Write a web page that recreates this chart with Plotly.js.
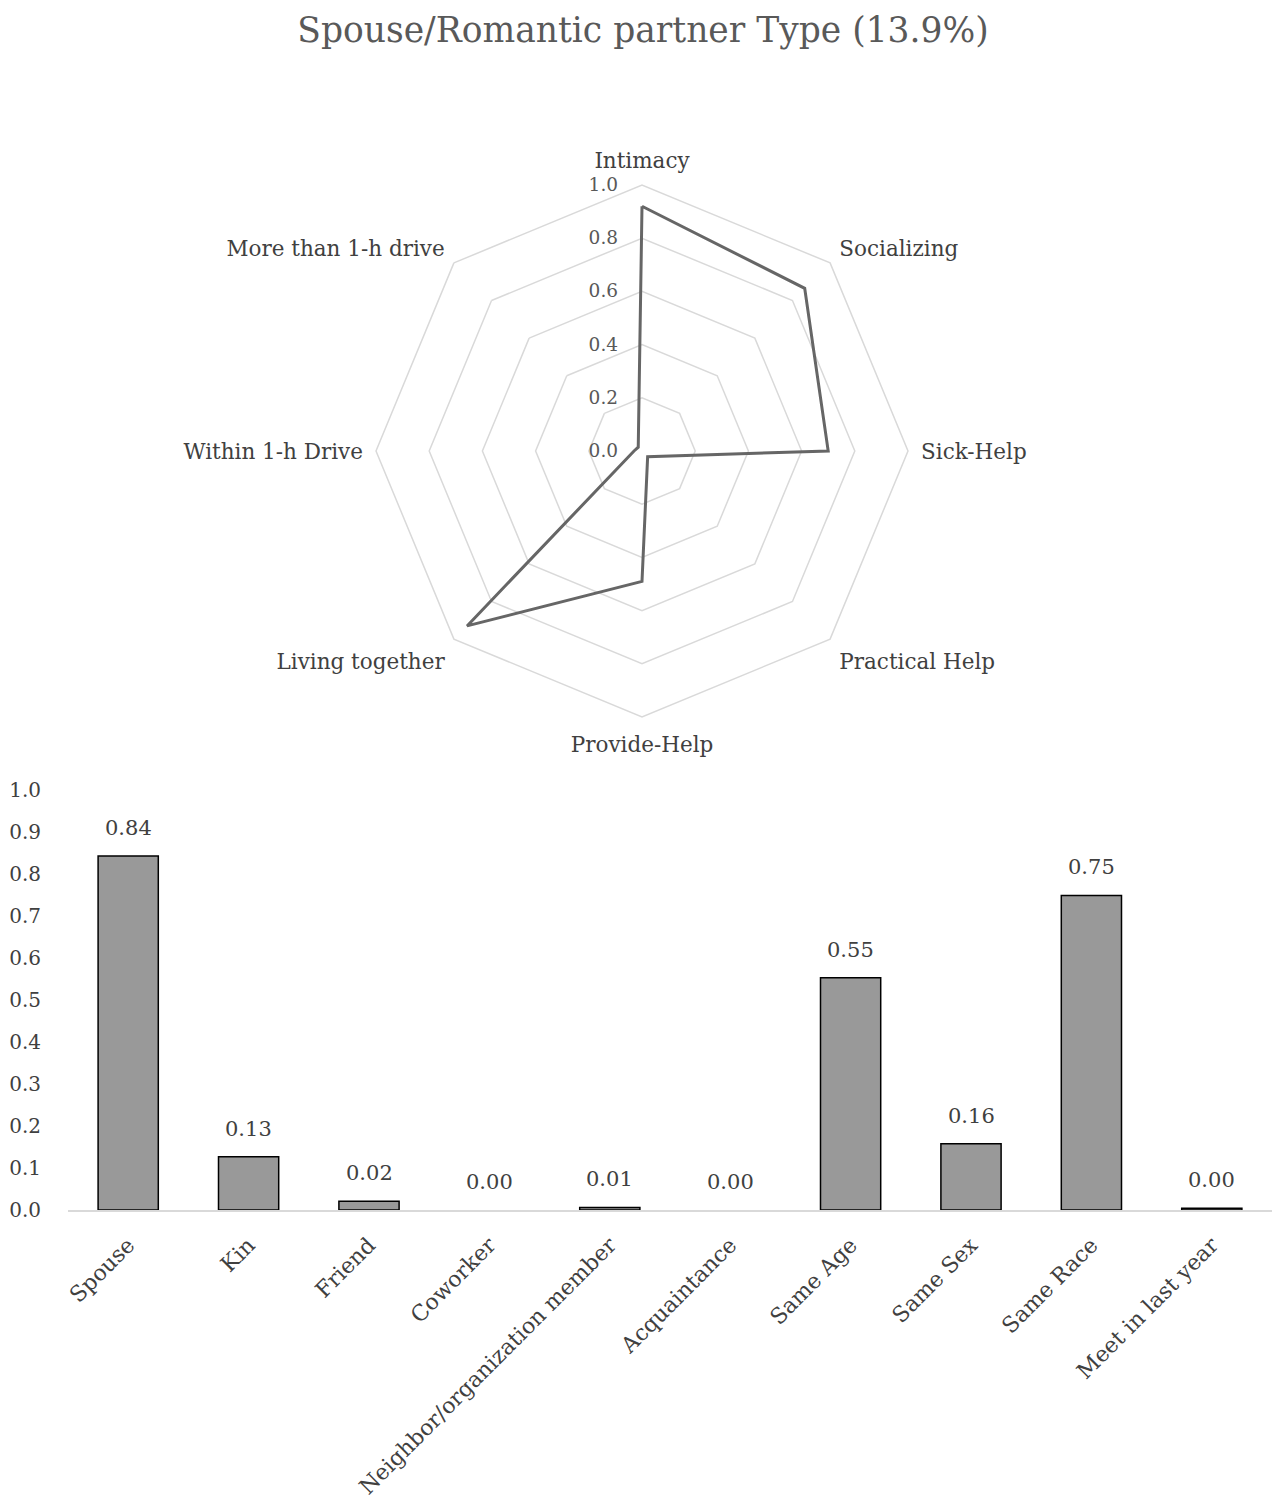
<!DOCTYPE html>
<html>
<head>
<meta charset="utf-8">
<script src="https://cdn.plot.ly/plotly-3.0.1.min.js"></script>
<style>html,body{margin:0;padding:0;background:#fff;}#chart{width:1279px;height:1509px;}</style>
</head>
<body>
<div id="chart"></div>
<script>
// Radar data
var radarAxes = ["Intimacy", "Socializing", "Sick-Help", "Practical Help", "Provide-Help", "Living together", "Within 1-h Drive", "More than 1-h drive"];
var radarValues = [0.92, 0.865, 0.70, 0.03, 0.49, 0.93, 0.03, 0.02];
var radialTicks = [0, 0.2, 0.4, 0.6, 0.8, 1.0];

// Bar data
var barCategories = ["Spouse", "Kin", "Friend", "Coworker", "Neighbor/organization member", "Acquaintance", "Same Age", "Same Sex", "Same Race", "Meet in last year"];
var barValues = [0.843, 0.127, 0.021, 0.0, 0.006, 0.0, 0.553, 0.158, 0.749, 0.004];
var barTicks = [0, 0.1, 0.2, 0.3, 0.4, 0.5, 0.6, 0.7, 0.8, 0.9, 1.0];

var serif = "DejaVu Serif, Liberation Serif, serif";
var textColor = "#404040";
var gridColor = "#d9d9d9";

var radarTrace = {
  type: "scatterpolar",
  r: radarValues.concat([radarValues[0]]),
  theta: radarAxes.concat([radarAxes[0]]),
  mode: "lines",
  line: {color: "#666666", width: 3},
  subplot: "polar",
  hoverinfo: "skip",
  showlegend: false
};

var barTrace = {
  type: "bar",
  x: barCategories,
  y: barValues,
  xaxis: "x",
  yaxis: "y",
  marker: {
    color: "#999999",
    line: {color: "#000000", width: barValues.map(function (v) { return v > 0 ? 1.5 : 0; })}
  },
  hoverinfo: "skip",
  showlegend: false
};

var annotations = barCategories.map(function (c, i) {
  return {
    x: c, y: barValues[i], xref: "x", yref: "y",
    text: barValues[i].toFixed(2),
    showarrow: false, yanchor: "bottom", yshift: 14,
    font: {family: serif, size: 21, color: textColor}
  };
});

var W = 1279, H = 1509;
var cx = 642, cy = 451, R = 266;

var layout = {
  width: W, height: H,
  margin: {l: 0, r: 0, t: 0, b: 0},
  paper_bgcolor: "#ffffff",
  plot_bgcolor: "#ffffff",
  title: {
    text: "Spouse/Romantic partner Type (13.9%)",
    x: 643 / W, xanchor: "center", y: 1 - 30 / H, yanchor: "middle",
    font: {family: serif, size: 34.5, color: "#595959"}
  },
  polar: {
    domain: {x: [(cx - R) / W, (cx + R) / W], y: [1 - (cy + R) / H, 1 - (cy - R) / H]},
    gridshape: "linear",
    bgcolor: "#ffffff",
    angularaxis: {
      direction: "clockwise", rotation: 90,
      categoryorder: "array", categoryarray: radarAxes,
      showgrid: false, showline: true, linecolor: gridColor, linewidth: 1.5,
      ticks: "outside", ticklen: 8, tickcolor: "rgba(0,0,0,0)",
      tickfont: {family: serif, size: 21.5, color: textColor}
    },
    radialaxis: {
      range: [0, 1], angle: 90, side: "counterclockwise", tickangle: 90,
      tickvals: radialTicks, tickformat: ".1f",
      showline: false, ticks: "outside", ticklen: 17, tickcolor: "rgba(0,0,0,0)",
      gridcolor: gridColor, gridwidth: 1.5,
      tickfont: {family: serif, size: 18.5, color: "#595959"}
    }
  },
  xaxis: {
    domain: [68 / W, 1272 / W],
    anchor: "y",
    tickangle: -45,
    tickfont: {family: serif, size: 22, color: textColor},
    showline: true, linecolor: gridColor, linewidth: 1.5,
    showgrid: false, zeroline: false,
    ticks: "outside", ticklen: 12, tickcolor: "rgba(0,0,0,0)", automargin: false
  },
  yaxis: {
    domain: [1 - 1210 / H, 1 - 790 / H],
    anchor: "x",
    range: [0, 1],
    tickvals: barTicks, tickformat: ".1f",
    showgrid: false, zeroline: false, showline: false,
    ticks: "outside", ticklen: 22, tickcolor: "rgba(0,0,0,0)",
    tickfont: {family: serif, size: 20, color: textColor}, automargin: false
  },
  bargap: 0.5,
  annotations: annotations
};

Plotly.newPlot("chart", [radarTrace, barTrace], layout, {displayModeBar: false, staticPlot: true});
</script>
</body>
</html>
